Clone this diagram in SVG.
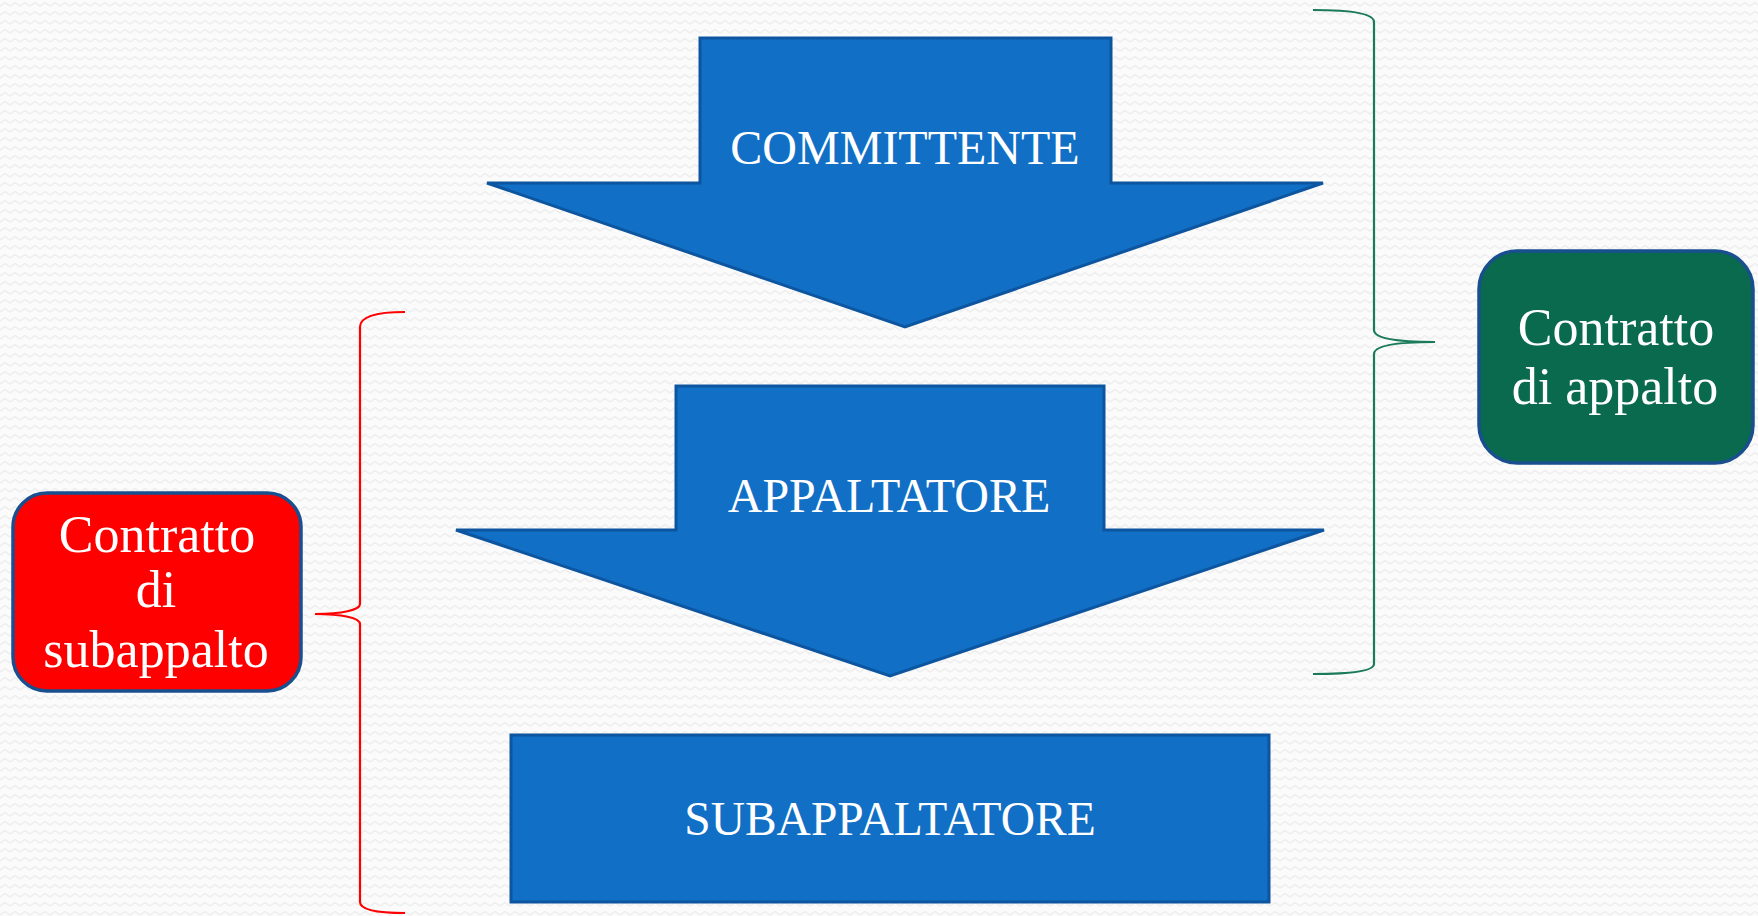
<svg xmlns="http://www.w3.org/2000/svg" width="1758" height="916" viewBox="0 0 1758 916">
<defs>
<pattern id="zz" width="10" height="9" patternUnits="userSpaceOnUse">
<path d="M0,6 L5,2.5 L10,6" fill="none" stroke="#efefef" stroke-width="1.6"/>
</pattern>
</defs>
<style>
.arrow{fill:#116fc6;stroke:#0d559f;stroke-width:3;stroke-linejoin:miter}
.lbl{font-family:"Liberation Serif",serif;fill:#ffffff;text-anchor:middle}
.box{stroke:#1a4f8f;stroke-width:3.5}
.brace{fill:none;stroke-width:2.2}
</style>
<rect width="1758" height="916" fill="#fbfbfb"/>
<rect width="1758" height="916" fill="url(#zz)"/>
<g id="committente">
<polygon class="arrow" points="700,38 1111,38 1111,183 1323,183 905,327 487,183 700,183"/>
<text class="lbl" x="905" y="164" font-size="48">COMMITTENTE</text>
</g>
<g id="appaltatore">
<polygon class="arrow" points="676,386 1104,386 1104,530 1324,530 890,676 456,530 676,530"/>
<text class="lbl" x="889" y="512" font-size="48">APPALTATORE</text>
</g>
<g id="subappaltatore">
<rect class="arrow" x="511" y="735" width="758" height="167"/>
<text class="lbl" x="890" y="835" font-size="47.5">SUBAPPALTATORE</text>
</g>
<g id="contratto-appalto">
<rect class="box" x="1479" y="251" width="274" height="212" rx="38" ry="38" fill="#0a6a4e"/>
<text class="lbl" x="1616" y="345" font-size="52">Contratto</text>
<text class="lbl" x="1615" y="404" font-size="52">di appalto</text>
</g>
<g id="contratto-subappalto">
<rect class="box" x="13" y="493" width="288" height="198" rx="34" ry="34" fill="#ff0000"/>
<text class="lbl" x="157" y="552" font-size="52">Contratto</text>
<text class="lbl" x="156" y="607" font-size="52">di</text>
<text class="lbl" x="156" y="667" font-size="52">subappalto</text>
</g>
<g id="connectors">
<path class="brace" stroke="#1b7a5a" d="M1313,10 C1350,10 1374,13 1374,22 L1374,330 C1374,338 1395,342 1435,342 C1395,342 1374,346 1374,354 L1374,664 C1374,671 1350,674 1313,674"/>
<path class="brace" stroke="#ff0000" d="M405,312 C378,312 360,316 360,327 L360,604 C360,610 342,614 315,614 C342,614 360,618 360,624 L360,902 C360,910 378,913 405,913"/>
</g>
</svg>
